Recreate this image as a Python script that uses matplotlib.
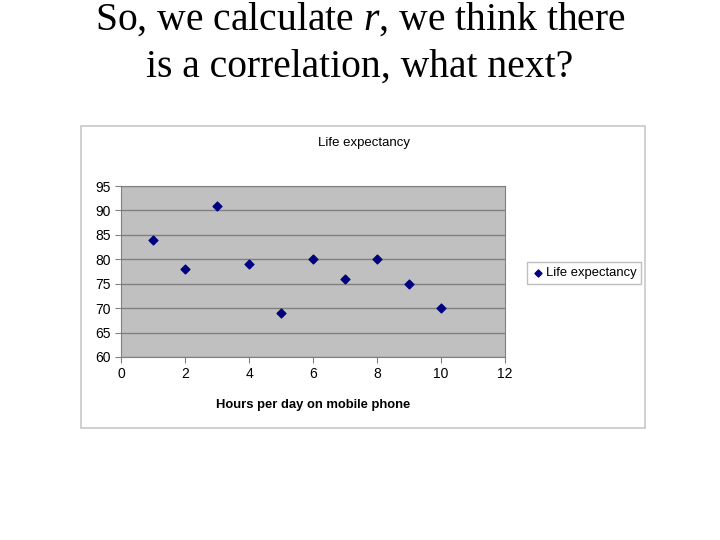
import matplotlib
matplotlib.use("Agg")
import matplotlib.pyplot as plt
from matplotlib.patches import Rectangle

plt.rcParams["font.family"] = ["Liberation Sans", "DejaVu Sans"]
plt.rcParams["mathtext.fontset"] = "custom"
plt.rcParams["mathtext.rm"] = "Liberation Serif"
plt.rcParams["mathtext.it"] = "Liberation Serif:italic"

hours = [1, 2, 3, 4, 5, 6, 7, 8, 9, 10]
life_expectancy = [84, 78, 91, 79, 69, 80, 76, 80, 75, 70]
x_ticks = [0, 2, 4, 6, 8, 10, 12]
y_ticks = [60, 65, 70, 75, 80, 85, 90, 95]

fig = plt.figure(figsize=(7.2, 5.4), dpi=100)

# slide title
fig.text(0.5, 1 - 20 / 540, r"So, we calculate $\it{r}$, we think there",
         ha="center", va="center", family="Liberation Serif", fontsize=28.5)
fig.text(0.5, 1 - 67 / 540, "is a correlation, what next?",
         ha="center", va="center", family="Liberation Serif", fontsize=28.5)

# excel chart frame
fig.patches.append(Rectangle((81 / 720, 1 - 428 / 540), 564 / 720, 302 / 540,
                             transform=fig.transFigure, facecolor="white",
                             edgecolor="#c8c8c8", linewidth=1.2, zorder=-1))

ax = fig.add_axes([121 / 720, 1 - 357 / 540, 384 / 720, 171 / 540])
ax.set_facecolor("#c0c0c0")
ax.scatter(hours, life_expectancy, marker="D", s=20, color="#000080",
           label="Life expectancy", zorder=3)
ax.set_xlim(0, 12)
ax.set_ylim(60, 95)
ax.set_xticks(x_ticks)
ax.set_yticks(y_ticks)
ax.yaxis.grid(True, color="#808080", linewidth=1)
ax.set_axisbelow(True)
for s in ax.spines.values():
    s.set_color("#808080")
ax.tick_params(labelsize=10, color="#808080", length=4, width=0.8)
ax.set_xlabel("Hours per day on mobile phone", fontsize=9.4, fontweight="bold",
              labelpad=13)

fig.text(364 / 720, 1 - 143 / 540, "Life expectancy", ha="center", va="center",
         fontsize=9.5)

leg = ax.legend(loc="center left", bbox_to_anchor=(527 / 720, 1 - 273 / 540),
                bbox_transform=fig.transFigure, fontsize=9.4, fancybox=False,
                handletextpad=0.1, handlelength=1.0, borderpad=0.35,
                borderaxespad=0, markerscale=0.8)
leg.get_frame().set_edgecolor("#b0b0b0")
leg.get_frame().set_linewidth(1)

fig.savefig("out.png", dpi=100)
